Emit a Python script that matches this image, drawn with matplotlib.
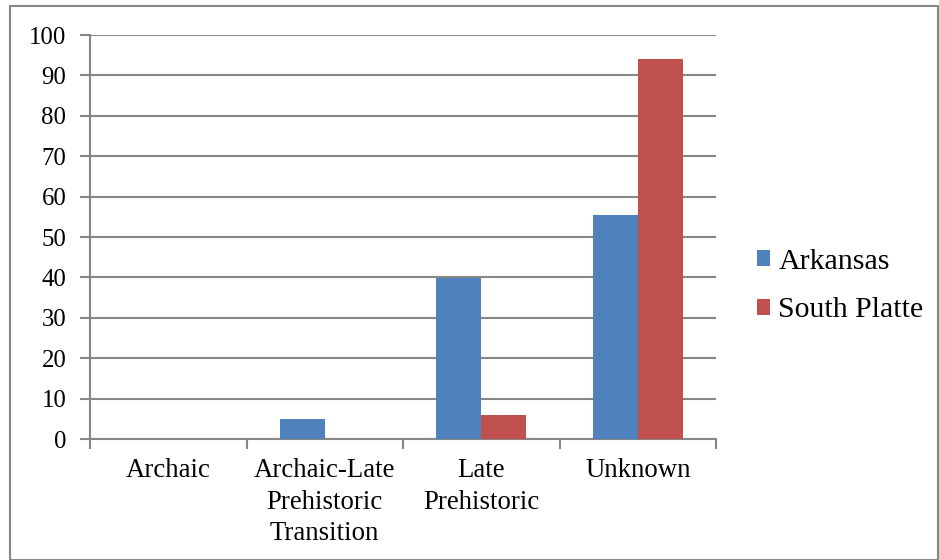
import numpy as np
import matplotlib
matplotlib.use("Agg")
import matplotlib.pyplot as plt
from matplotlib.patches import Rectangle

# ── Data
categories = ["Archaic", "Archaic-Late\nPrehistoric\nTransition", "Late\nPrehistoric", "Unknown"]
arkansas = [0, 4.9, 39.8, 55.4]
south_platte = [0, 0, 5.9, 94.0]
y_ticks = list(range(0, 101, 10))

# ── Style
plt.rcParams.update({
    "font.family": "Liberation Serif",
    "font.size": 17,
})
GRID = "#878787"
BLUE = "#4F81BD"
RED = "#C0504D"

fig = plt.figure(figsize=(9.39, 5.6), dpi=100)
ax = fig.add_axes([90/939, 1 - 439/560, 626/939, 404/560])

x = np.arange(len(categories))
w = 0.2875
ax.bar(x - w/2, arkansas, w, color=BLUE, label="Arkansas", zorder=3)
ax.bar(x + w/2, south_platte, w, color=RED, label="South Platte", zorder=3)

ax.set_xlim(-0.5, len(categories) - 0.5)
ax.set_ylim(0, 100)
ax.set_yticks(y_ticks)
ax.yaxis.grid(True, color=GRID, lw=1.5, zorder=0)
ax.set_axisbelow(True)

# category labels centred, tick marks at category boundaries
ax.set_xticks(x)
ax.set_xticklabels(categories, fontsize=19.3, linespacing=1.33, va="top")
ax.tick_params(axis="x", which="major", length=0, pad=14)
ax.set_xticks(np.arange(-0.5, len(categories)), minor=True)
ax.tick_params(axis="x", which="minor", length=7, width=1.5, color=GRID, direction="out")
ax.tick_params(axis="y", length=7, width=1.5, color=GRID, pad=10, labelsize=17.8)

for s in ["top", "right"]:
    ax.spines[s].set_visible(False)
for s in ["left", "bottom"]:
    ax.spines[s].set_color(GRID)
    ax.spines[s].set_linewidth(1.5)

ax.legend(loc="center left", bbox_to_anchor=(757/939, 1 - 286/560),
          bbox_transform=fig.transFigure, frameon=False, fontsize=21.5,
          handlelength=0.45, handleheight=0.45, handletextpad=0.27,
          labelspacing=0.75, borderaxespad=0, borderpad=0)

# outer chart border
fig.patches.append(Rectangle((10/939, 0), 928/939, 1 - 6/560,
                             transform=fig.transFigure, fill=False,
                             edgecolor=GRID, lw=1.5))

fig.savefig("out.png", dpi=100)
